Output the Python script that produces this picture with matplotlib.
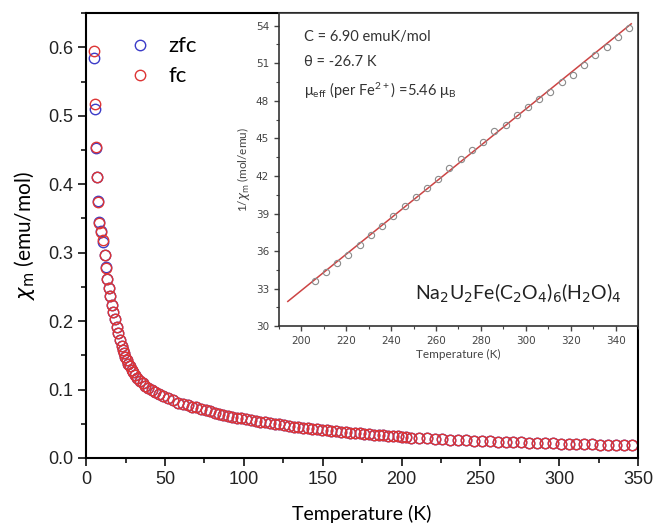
import matplotlib
matplotlib.use("Agg")
import matplotlib.pyplot as plt
from matplotlib.ticker import MultipleLocator

# main plot: chi_m vs T (low-T part)
temp_low = [5.1, 5.7, 6.4, 7.0, 7.6, 8.3, 9.5, 10.8, 12.1, 12.5, 13.3, 14.6, 15.4, 16.3,
            17.2, 18.0, 19.3, 20.3, 21.4, 22.4, 23.2, 24.0, 24.8, 25.6, 26.6, 27.7, 28.8,
            29.9, 31.1, 32.4, 34.0, 35.8, 37.6, 39.4, 41.5, 43.6, 46.2, 48.9, 52.0, 55.3,
            58.4, 61.6, 64.3, 67.0, 69.9, 72.8, 75.7, 78.6, 81.4, 84.2, 87.0, 89.8, 92.6,
            95.5, 98.5, 101.5, 104.5, 107.5, 110.5, 113.5, 116.5, 119.5, 122.5, 125.5,
            128.5, 131.5, 134.5, 137.5, 140.5, 143.5, 146.5, 149.5, 152.5, 155.5, 158.5,
            161.5, 164.5, 167.5, 170.5, 173.5, 176.5, 179.5, 182.5, 185.5, 188.5, 191.5,
            194.5, 197.5, 200.5, 203.0]
fc_low = [0.595, 0.517, 0.455, 0.410, 0.374, 0.343, 0.330, 0.318, 0.296, 0.278, 0.262,
          0.249, 0.236, 0.224, 0.214, 0.203, 0.192, 0.183, 0.173, 0.163, 0.158, 0.153,
          0.148, 0.143, 0.138, 0.134, 0.129, 0.125, 0.121, 0.117, 0.113, 0.109, 0.105,
          0.102, 0.099, 0.096, 0.093, 0.090, 0.087, 0.084, 0.081, 0.079, 0.077, 0.075,
          0.074, 0.072, 0.070, 0.068, 0.066, 0.064, 0.063, 0.062, 0.060, 0.059, 0.058,
          0.057, 0.0555, 0.0543, 0.0532, 0.052, 0.051, 0.050, 0.049, 0.0478, 0.0468,
          0.0459, 0.045, 0.0441, 0.0433, 0.0425, 0.0417, 0.041, 0.0403, 0.0396, 0.039,
          0.0383, 0.0377, 0.0371, 0.0365, 0.0359, 0.0353, 0.0347, 0.0342, 0.0337,
          0.0331, 0.0326, 0.0321, 0.0316, 0.0311, 0.0305]
zfc_first = [0.584, 0.510, 0.453, 0.411, 0.376, 0.345, 0.332, 0.316, 0.297, 0.279]

# inset: 1/chi_m vs T, and the Curie-Weiss fit line
inset_temp = [206, 211, 216, 221, 226, 231, 236, 241, 246, 251, 256, 261, 266, 271, 276,
              281, 286, 291, 296, 301, 306, 311, 316, 321, 326, 331, 336, 341, 346]
inset_inv = [33.61, 34.36, 35.03, 35.70, 36.51, 37.31, 38.03, 38.78, 39.64, 40.31, 41.06,
             41.78, 42.62, 43.34, 44.09, 44.68, 45.56, 46.07, 46.87, 47.49, 48.11, 48.70,
             49.50, 50.09, 50.84, 51.64, 52.31, 53.12, 53.84]
fit_temp = [194, 347]
fit_inv = [31.98, 54.15]

temp_all = temp_low + inset_temp
fc_all = fc_low + [1 / v for v in inset_inv]
zfc_all = zfc_first + fc_all[len(zfc_first):]

fig = plt.figure(figsize=(6.53, 5.27), dpi=100)
ax = fig.add_axes([0.132, 0.131, 0.845, 0.844])

ax.plot(temp_all, zfc_all, "o", mfc="none", mec="#3c3cc8", mew=1.0, ms=7.5, label="zfc")
ax.plot(temp_all, fc_all, "o", mfc="none", mec="#dd3535", mew=1.0, ms=7.5, label="fc")

ax.set_xlim(0, 350)
ax.set_ylim(0, 0.65)
ax.xaxis.set_major_locator(MultipleLocator(50))
ax.xaxis.set_minor_locator(MultipleLocator(25))
ax.yaxis.set_minor_locator(MultipleLocator(0.05))
ax.set_yticks([0.0, 0.1, 0.2, 0.3, 0.4, 0.5, 0.6])
ax.set_yticklabels(["0.0", "0.1", "0.2", "0.3", "0.4", "0.5", "0.6"])
ax.tick_params(which="major", direction="out", length=6, width=1.3,
               labelsize=13, colors="#222222")
ax.tick_params(which="minor", direction="out", length=3.5, width=1.1)
for sp in ax.spines.values():
    sp.set_linewidth(1.5)
for lab in ax.get_xticklabels() + ax.get_yticklabels():
    lab.set_family("Liberation Sans")

ax.set_xlabel("Temperature (K)", fontsize=14, family="Lato", labelpad=12)
ax.set_ylabel(r"$\chi_\mathrm{m}$ (emu/mol)", fontsize=15, family="Lato", labelpad=8)

leg = ax.legend(loc="upper left", bbox_to_anchor=(0.078, 0.948), frameon=False,
                borderpad=0, borderaxespad=0, handlelength=1.0, handletextpad=0.75,
                labelspacing=0.45, prop={"family": "Lato", "size": 16})

# inset
ins = fig.add_axes([0.427, 0.381, 0.55, 0.594])
ins.plot(fit_temp, fit_inv, "-", color="#cc4444", lw=1.1)
ins.plot(inset_temp, inset_inv, "o", mfc="none", mec="#8a8a8a", mew=0.8, ms=4.5)
ins.set_xlim(190, 350)
ins.set_ylim(30, 55)
ins.xaxis.set_major_locator(MultipleLocator(20))
ins.xaxis.set_minor_locator(MultipleLocator(10))
ins.set_yticks([30, 33, 36, 39, 42, 45, 48, 51, 54])
ins.yaxis.set_minor_locator(MultipleLocator(1.5))
ins.tick_params(which="major", direction="out", length=3.5, width=1.0,
                labelsize=7.5, colors="#444444")
ins.tick_params(which="minor", direction="out", length=2, width=0.8, colors="#444444")
for sp in ins.spines.values():
    sp.set_linewidth(1.2)
    sp.set_color("#333333")
ins.set_xlabel("Temperature (K)", fontsize=8.5, family="Lato", color="#444444", labelpad=2)
ins.set_ylabel(r"1/$\chi_\mathrm{m}$ (mol/emu)", fontsize=8.5, family="Lato",
               color="#444444", labelpad=3)

txt_font = ["Lato", "DejaVu Sans"]
ins.text(0.07, 0.91, "C = 6.90 emuK/mol", transform=ins.transAxes, fontsize=10.5,
         family=txt_font, color="#333333")
ins.text(0.07, 0.83, "θ = -26.7 K", transform=ins.transAxes, fontsize=10.5,
         family=txt_font, color="#333333")
ins.text(0.07, 0.735, r"$\mathregular{\mu_{eff}}$ (per Fe$\mathregular{^{2+}}$) =5.46 $\mathregular{\mu_B}$",
         transform=ins.transAxes, fontsize=10.5, family=txt_font, color="#333333")
ins.text(0.38, 0.085, r"Na$_2$U$_2$Fe(C$_2$O$_4$)$_6$(H$_2$O)$_4$", transform=ins.transAxes,
         fontsize=14, family="Lato", color="#222222")

fig.savefig("out.png", dpi=100)
